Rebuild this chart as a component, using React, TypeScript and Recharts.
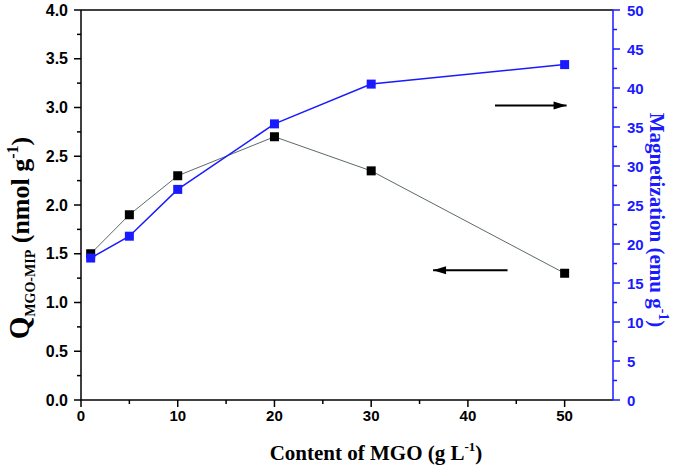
import React from "react";
import {
  Label,
  Line,
  LineChart,
  ReferenceLine,
  XAxis,
  YAxis,
} from "recharts";

// MGO content (g/L)
const content = [1, 5, 10, 20, 30, 50];
// adsorption capacity Q (nmol/g), left axis
const qValues = [1.5, 1.9, 2.3, 2.7, 2.35, 1.3];
// magnetization (emu/g), right axis
const magValues = [18.2, 21, 27, 35.4, 40.5, 43];

const xTicks = [0, 5, 10, 15, 20, 25, 30, 35, 40, 45, 50];
const leftTicks = [0, 0.25, 0.5, 0.75, 1, 1.25, 1.5, 1.75, 2, 2.25, 2.5, 2.75, 3, 3.25, 3.5, 3.75, 4];
const rightTicks = [0, 2.5, 5, 7.5, 10, 12.5, 15, 17.5, 20, 22.5, 25, 27.5, 30, 32.5, 35, 37.5, 40, 42.5, 45, 47.5, 50];

const data = content.map((c, i) => ({ x: c, q: qValues[i], m: magValues[i] }));

const BLUE = "#1a1aff";
const tickFont = { fontFamily: "Liberation Sans, Arial", fontWeight: "bold", fontSize: 15 };
const titleFont = { fontFamily: "Liberation Serif, Times New Roman", fontWeight: "bold" };

const isMult = (v: number, step: number) => Math.abs(v / step - Math.round(v / step)) < 1e-6;

const BottomTick = (props: any) => {
  const { x, y, payload } = props;
  const major = isMult(payload.value, 10);
  return (
    <g>
      <line x1={x} x2={x} y1={y} y2={y + (major ? 7 : 4)} stroke="#000" strokeWidth={1.5} />
      {major && (
        <text x={x} y={y + 15} textAnchor="middle" dominantBaseline="central" fill="#000" {...tickFont}>
          {payload.value}
        </text>
      )}
    </g>
  );
};

const LeftTick = (props: any) => {
  const { x, y, payload } = props;
  const major = isMult(payload.value, 0.5);
  return (
    <g>
      <line x1={x} x2={x - (major ? 7 : 4)} y1={y} y2={y} stroke="#000" strokeWidth={1.5} />
      {major && (
        <text x={x - 13} y={y} textAnchor="end" dominantBaseline="central" fill="#000" {...tickFont} fontSize={16}>
          {payload.value.toFixed(1)}
        </text>
      )}
    </g>
  );
};

const RightTick = (props: any) => {
  const { x, y, payload } = props;
  const major = isMult(payload.value, 5);
  return (
    <g>
      <line x1={x} x2={x + (major ? 7 : 4)} y1={y} y2={y} stroke={BLUE} strokeWidth={1.5} />
      {major && (
        <text x={x + 14} y={y} textAnchor="start" dominantBaseline="central" fill={BLUE} {...tickFont}>
          {payload.value}
        </text>
      )}
    </g>
  );
};

const square = (color: string) => (props: any) => {
  const { cx, cy, index } = props;
  return <rect key={index} x={cx - 4.5} y={cy - 4.5} width={9} height={9} fill={color} />;
};

const Arrow = (dir: "left" | "right") => (props: any) => {
  const { x1, y1, x2, y2 } = props;
  const tipX = dir === "right" ? Math.max(x1, x2) : Math.min(x1, x2);
  const s = dir === "right" ? -1 : 1;
  return (
    <g>
      <line x1={x1} y1={y1} x2={x2} y2={y2} stroke="#000" strokeWidth={2} />
      <polygon
        points={`${tipX},${y1} ${tipX + s * 13},${y1 - 4} ${tipX + s * 13},${y1 + 4}`}
        fill="#000"
      />
    </g>
  );
};

const LeftTitle = () => (
  <text transform="rotate(-90, 29, 238)" x={29} y={238} textAnchor="middle" fill="#000" {...titleFont} fontSize={26}>
    <tspan fontSize={29}>Q</tspan>
    <tspan fontSize={14} dy={6}>MGO-MIP</tspan>
    <tspan dy={-6}> (nmol g</tspan>
    <tspan fontSize={16} dy={-11}>-1</tspan>
    <tspan dy={11}>)</tspan>
  </text>
);

const RightTitle = () => (
  <text transform="rotate(90, 650, 220)" x={650} y={220} textAnchor="middle" fill={BLUE} {...titleFont} fontSize={21}>
    <tspan>Magnetization (emu g</tspan>
    <tspan fontSize={14} dy={-9}>-1</tspan>
    <tspan dy={9}>)</tspan>
  </text>
);

const BottomTitle = () => (
  <text x={376} y={460} textAnchor="middle" fill="#000" {...titleFont} fontSize={21}>
    <tspan>Content of MGO (g L</tspan>
    <tspan fontSize={13} dy={-9}>-1</tspan>
    <tspan dy={9}>)</tspan>
  </text>
);

export default function App() {
  return (
    <div style={{ position: "absolute", left: 0, top: 0, width: 679, height: 472, background: "#fff" }}>
      <LineChart width={679} height={472} data={data} margin={{ top: 10, right: 0, left: 0, bottom: 0 }}>
        <XAxis
          dataKey="x"
          type="number"
          domain={[0, 55]}
          ticks={xTicks}
          interval={0}
          height={72}
          tickLine={false}
          tickSize={0}
          tickMargin={0}
          tick={<BottomTick />}
          axisLine={{ stroke: "#000", strokeWidth: 1.5 }}
        >
          <Label content={<BottomTitle />} />
        </XAxis>
        <YAxis
          yAxisId="left"
          domain={[0, 4]}
          ticks={leftTicks}
          interval={0}
          width={81}
          tickLine={false}
          tickSize={0}
          tickMargin={0}
          tick={<LeftTick />}
          axisLine={{ stroke: "#000", strokeWidth: 1.5 }}
        >
          <Label content={<LeftTitle />} />
        </YAxis>
        <YAxis
          yAxisId="right"
          orientation="right"
          domain={[0, 50]}
          ticks={rightTicks}
          interval={0}
          width={66}
          tickLine={false}
          tickSize={0}
          tickMargin={0}
          tick={<RightTick />}
          axisLine={{ stroke: BLUE, strokeWidth: 1.5 }}
        >
          <Label content={<RightTitle />} />
        </YAxis>
        <ReferenceLine yAxisId="left" y={4} stroke="#000" strokeWidth={1.5} />
        <ReferenceLine
          yAxisId="left"
          segment={[{ x: 42.8, y: 3.02 }, { x: 50.2, y: 3.02 }]}
          shape={Arrow("right")}
        />
        <ReferenceLine
          yAxisId="left"
          segment={[{ x: 36.4, y: 1.33 }, { x: 44.1, y: 1.33 }]}
          shape={Arrow("left")}
        />
        <Line
          yAxisId="left"
          dataKey="q"
          stroke="#5c6a6a"
          strokeWidth={1}
          dot={square("#000")}
          isAnimationActive={false}
        />
        <Line
          yAxisId="right"
          dataKey="m"
          stroke={BLUE}
          strokeWidth={1.5}
          dot={square(BLUE)}
          isAnimationActive={false}
        />
      </LineChart>
    </div>
  );
}
